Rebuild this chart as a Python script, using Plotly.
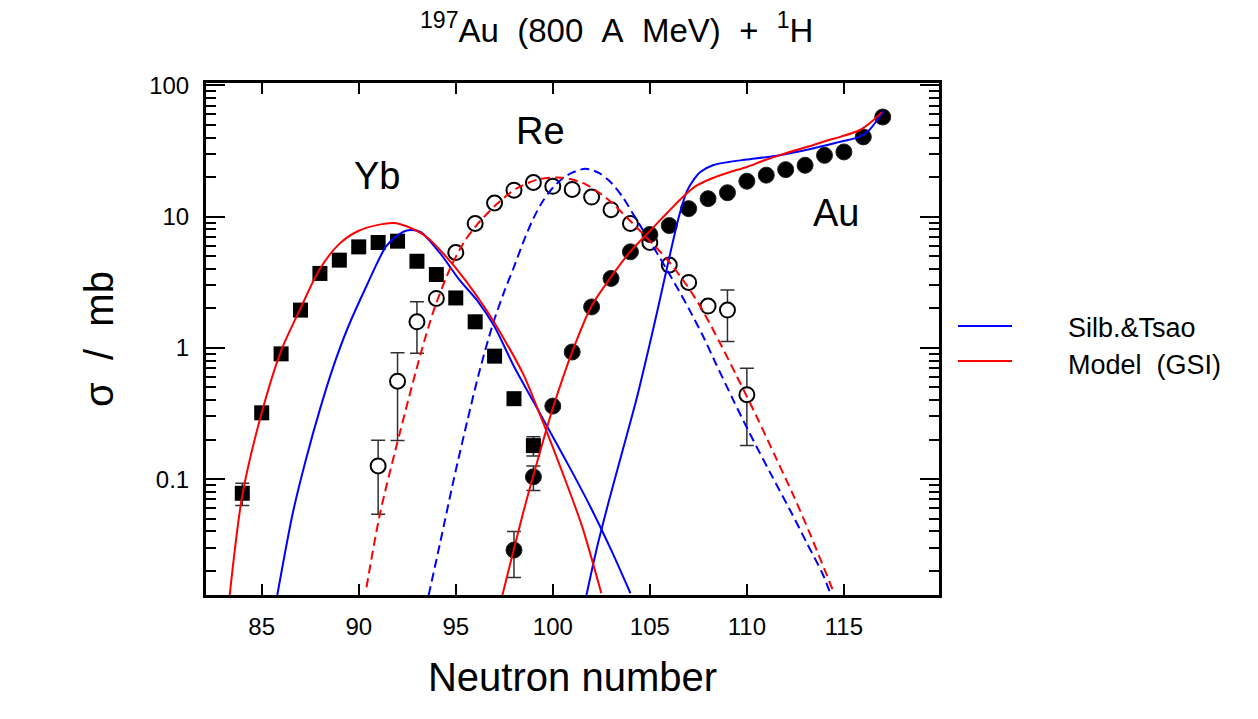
import plotly.graph_objects as go

# ---------------- data ----------------
# Yb isotopes (filled squares)
yb_n = [84, 85, 86, 87, 88, 89, 90, 91, 92, 93, 94, 95, 96, 97, 98, 99]
yb_sig = [0.078, 0.32, 0.90, 1.94, 3.69, 4.66, 5.88, 6.35, 6.5, 4.57, 3.62, 2.40, 1.58, 0.865, 0.41, 0.18]
yb_err = [0.015, 0, 0, 0, 0, 0, 0, 0, 0, 0, 0, 0, 0, 0, 0, 0.03]

# Re isotopes (open circles)
re_n = [91, 92, 93, 94, 95, 96, 97, 98, 99, 100, 101, 102, 103, 104, 105, 106, 107, 108, 109, 110]
re_sig = [0.126, 0.557, 1.58, 2.38, 5.33, 8.86, 12.7, 15.9, 18.2, 17.0, 16.1, 14.1, 11.3, 8.86, 6.35, 4.27, 3.15, 2.08, 1.94, 0.44]
re_err = [0.072, 0.36, 0.67, 0, 0, 0, 0, 0, 0, 0, 0, 0, 0, 0, 0, 0, 0, 0, 0.82, 0.26]

# Au isotopes (filled circles)
au_n = [98, 99, 100, 101, 102, 103, 104, 105, 106, 107, 108, 109, 110, 111, 112, 113, 114, 115, 116, 117]
au_sig = [0.0288, 0.104, 0.36, 0.93, 2.05, 3.38, 5.39, 7.31, 8.55, 11.5, 13.7, 15.2, 18.6, 20.7, 22.8, 24.6, 29.3, 31.1, 40.5, 57.4]
au_err = [0.011, 0.022, 0, 0, 0, 0, 0, 0, 0, 0, 0, 0, 0, 0, 0, 0, 0, 0, 0, 0]

# Model (GSI) curves - red
yb_model_n = [83.35, 84, 85, 86, 87, 88, 89, 90, 91, 91.8, 92.5, 93.5, 94.5, 95.5, 96.5, 97.5, 98.5, 99.5, 100.5, 101.5, 102.5]
yb_model_s = [0.013, 0.075, 0.32, 0.95, 2.0, 4.0, 6.2, 7.8, 8.65, 8.95, 8.4, 7.0, 4.95, 3.27, 2.02, 1.16, 0.62, 0.27, 0.112, 0.044, 0.0135]

re_model_n = [90.4, 91.1, 92.1, 93.2, 93.9, 94.7, 95.4, 96.1, 97.1, 98.1, 99.3, 100.5, 101.6, 102.8, 103.8, 104.8, 105.9, 106.9, 107.7, 108.6, 109.5, 110.5, 111.5, 112.4, 113.2, 114.0, 114.5]
re_model_s = [0.015, 0.055, 0.22, 0.91, 2.0, 4.0, 6.3, 8.7, 12.4, 16.3, 19.3, 19.8, 17.9, 13.7, 9.9, 7.0, 4.7, 3.0, 1.95, 1.1, 0.6, 0.3, 0.145, 0.075, 0.040, 0.0205, 0.0134]

au_model_n = [97.4, 98.0, 98.5, 99.0, 99.5, 100.0, 101.0, 102.0, 103.0, 104.0, 105.0, 105.9, 106.7, 107.4, 108.25, 109.1, 110.0, 110.8, 111.7, 112.5, 113.4, 114.1, 114.8, 115.8, 116.5, 116.95]
au_model_s = [0.013, 0.0295, 0.0575, 0.107, 0.195, 0.347, 0.933, 2.09, 3.47, 5.43, 7.76, 10.7, 14.1, 17.2, 19.7, 21.8, 23.9, 26.5, 29.4, 32.0, 35.0, 37.8, 40.5, 45.5, 54.0, 62.5]

# Silberberg & Tsao curves - blue
yb_silb_n = [85.8, 86.6, 87.3, 88.0, 88.7, 89.4, 90.4, 91.4, 92.0, 92.55, 93.2, 94.2, 95.2, 96.1, 97.0, 98.0, 99.0, 100.0, 101.0, 102.0, 103.0, 104.0]
yb_silb_s = [0.013, 0.055, 0.145, 0.34, 0.726, 1.38, 2.96, 5.9, 7.2, 7.86, 7.6, 5.24, 3.28, 2.3, 1.45, 0.72, 0.39, 0.21, 0.113, 0.059, 0.029, 0.0135]

re_silb_n = [93.6, 94.2, 94.9, 95.6, 96.2, 96.9, 97.5, 98.0, 98.5, 99.0, 99.5, 100.0, 100.5, 101.0, 101.7, 102.4, 103.0, 103.6, 104.1, 104.6, 105.0, 105.5, 106.0, 106.5, 107.0, 107.74, 108.4, 109.3, 110.1, 111.2, 112.2, 113.1, 113.9, 114.35]
re_silb_s = [0.013, 0.033, 0.1, 0.28, 0.645, 1.5, 2.69, 4.14, 6.5, 9.7, 13.2, 16.6, 19.5, 21.6, 23.2, 21.4, 18.2, 14.1, 10.7, 8.1, 6.5, 4.9, 3.67, 2.72, 2.0, 1.23, 0.76, 0.40, 0.23, 0.112, 0.059, 0.0324, 0.019, 0.0129]

au_silb_n = [101.73, 102.25, 102.9, 103.6, 104.3, 105.0, 105.4, 105.9, 106.5, 106.9, 107.3, 107.6, 108.25, 109.0, 110.0, 111.7, 113.4, 114.8, 115.8, 116.3, 117.05]
au_silb_s = [0.013, 0.029, 0.069, 0.166, 0.40, 1.08, 1.95, 4.17, 10.0, 15.5, 19.5, 21.9, 24.6, 26.0, 27.2, 29.4, 33.0, 37.1, 40.5, 45.5, 64.0]

x_ticks = [85, 90, 95, 100, 105, 110, 115]
y_ticks = [0.1, 1, 10, 100]
y_ticktext = ["0.1", "1", "10", "100"]
y_minor = [m * 10.0 ** e for e in (-2, -1, 0, 1) for m in range(2, 10)]

legend_names = ["Silb.&Tsao", "Model\u00a0\u00a0(GSI)"]
element_labels = ["Yb", "Re", "Au"]

# ---------------- figure ----------------
BLUE = "#0000ff"
RED = "#ff0000"
FONT = "Liberation Sans, Arial, sans-serif"

fig = go.Figure()

errstyle = dict(type="data", symmetric=True, color="#303030", thickness=1.5, width=7)

fig.add_trace(go.Scatter(x=yb_n, y=yb_sig, mode="markers",
                         error_y=dict(array=yb_err, **errstyle),
                         marker=dict(symbol="square", size=15, color="black"),
                         showlegend=False))
fig.add_trace(go.Scatter(x=re_n, y=re_sig, mode="markers",
                         error_y=dict(array=re_err, **errstyle),
                         marker=dict(symbol="circle", size=15, color="white",
                                     line=dict(color="black", width=2)),
                         showlegend=False))
fig.add_trace(go.Scatter(x=au_n, y=au_sig, mode="markers",
                         error_y=dict(array=au_err, **errstyle),
                         marker=dict(symbol="circle", size=16, color="black",
                                     line=dict(color="#222222", width=1)),
                         showlegend=False))

line_solid_b = dict(color=BLUE, width=2, shape="spline", smoothing=0.8)
line_solid_r = dict(color=RED, width=2, shape="spline", smoothing=0.8)
line_dash_b = dict(color=BLUE, width=2, dash="9px,5px", shape="spline", smoothing=0.8)
line_dash_r = dict(color=RED, width=2, dash="9px,5px", shape="spline", smoothing=0.8)

fig.add_trace(go.Scatter(x=yb_silb_n, y=yb_silb_s, mode="lines", line=line_solid_b, showlegend=False))
fig.add_trace(go.Scatter(x=re_silb_n, y=re_silb_s, mode="lines", line=line_dash_b, showlegend=False))
fig.add_trace(go.Scatter(x=au_silb_n, y=au_silb_s, mode="lines", line=line_solid_b, showlegend=False))
fig.add_trace(go.Scatter(x=yb_model_n, y=yb_model_s, mode="lines", line=line_solid_r, showlegend=False))
fig.add_trace(go.Scatter(x=re_model_n, y=re_model_s, mode="lines", line=line_dash_r, showlegend=False))
fig.add_trace(go.Scatter(x=au_model_n, y=au_model_s, mode="lines", line=line_solid_r, showlegend=False))

# plot-area geometry in pixels
L, R, T, B = 206, 939, 83, 595
W, H = 1258, 719
PW, PH = R - L, B - T


def px(xp):
    return (xp - L) / PW


def py(yp):
    return (B - yp) / PH


annotations = [
    dict(text="<sup>197</sup>Au\u00a0\u00a0(800\u00a0\u00a0A\u00a0\u00a0MeV)\u00a0\u00a0+\u00a0\u00a0<sup>1</sup>H",
         xref="paper", yref="paper", x=px(616), y=py(28), showarrow=False,
         xanchor="center", yanchor="middle", font=dict(size=33, color="black", family=FONT)),
    dict(text=element_labels[0], xref="x", yref="y", x=90.94, y=1.308, showarrow=False,
         font=dict(size=38, color="black", family=FONT)),
    dict(text=element_labels[1], xref="x", yref="y", x=99.38, y=1.65, showarrow=False,
         font=dict(size=38, color="black", family=FONT)),
    dict(text=element_labels[2], xref="x", yref="y", x=114.6, y=1.026, showarrow=False,
         font=dict(size=38, color="black", family=FONT)),
    dict(text=legend_names[0], xref="paper", yref="paper", x=px(1066), y=py(328),
         xanchor="left", yanchor="middle", showarrow=False,
         font=dict(size=27, color="black", family=FONT)),
    dict(text=legend_names[1], xref="paper", yref="paper", x=px(1066), y=py(365),
         xanchor="left", yanchor="middle", showarrow=False,
         font=dict(size=27, color="black", family=FONT)),
]

shapes = [
    dict(type="line", xref="paper", yref="paper", x0=px(958), x1=px(1012), y0=py(326), y1=py(326),
         line=dict(color=BLUE, width=2)),
    dict(type="line", xref="paper", yref="paper", x0=px(958), x1=px(1012), y0=py(361), y1=py(361),
         line=dict(color=RED, width=2)),
]

fig.update_layout(
    width=W, height=H,
    margin=dict(l=L, r=W - R, t=T, b=H - B, pad=0),
    paper_bgcolor="white", plot_bgcolor="white",
    font=dict(family=FONT, color="black"),
    annotations=annotations, shapes=shapes,
    showlegend=False,
)

fig.update_xaxes(
    range=[82.13, 119.9], tickmode="array", tickvals=x_ticks,
    ticks="inside", ticklen=11, tickwidth=2, tickcolor="black",
    showline=True, linewidth=3, linecolor="black", mirror="ticks",
    showgrid=False, zeroline=False,
    tickfont=dict(size=24, family=FONT),
    ticklabelstandoff=8,
    title=dict(text="Neutron number", font=dict(size=40, family=FONT), standoff=25),
)
fig.update_yaxes(
    type="log", range=[-1.883, 2.018], tickmode="array", tickvals=y_ticks, ticktext=y_ticktext,
    ticks="inside", ticklen=19, tickwidth=2, tickcolor="black",
    minor=dict(ticks="inside", ticklen=10, tickwidth=2, tickcolor="black", tickvals=y_minor, showgrid=False),
    showline=True, linewidth=3, linecolor="black", mirror="ticks",
    showgrid=False, zeroline=False,
    tickfont=dict(size=24, family=FONT),
    ticklabelstandoff=9,
    title=dict(text="σ\u00a0\u00a0/\u00a0\u00a0mb", font=dict(size=40, family=FONT), standoff=24),
)

fig.write_html("out.html")
